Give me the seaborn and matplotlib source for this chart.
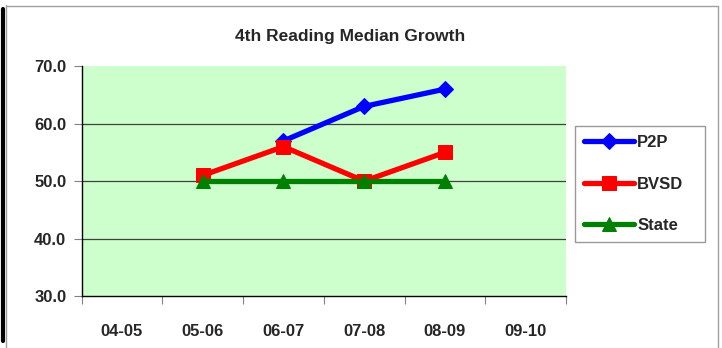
import numpy as np
import pandas as pd
import matplotlib
matplotlib.use("Agg")
import matplotlib.pyplot as plt
from matplotlib.lines import Line2D
import seaborn as sns

# data
years = ["04-05", "05-06", "06-07", "07-08", "08-09", "09-10"]
p2p = [np.nan, np.nan, 57, 63, 66, np.nan]
bvsd = [np.nan, 51, 56, 50, 55, np.nan]
state = [np.nan, 50, 50, 50, 50, np.nan]

series_names = ["P2P", "BVSD", "State"]
series_colors = ["#0000FF", "#FF0000", "#008000"]
series_markers = ["D", "s", "^"]
marker_sizes = [8, 10, 10]

sns.set_style("white")
plt.rcParams["font.family"] = ["Liberation Sans", "DejaVu Sans"]
plt.rcParams["font.weight"] = "bold"

rows = []
for name, vals in zip(series_names, [p2p, bvsd, state]):
    for i, v in enumerate(vals):
        if not np.isnan(v):
            rows.append({"pos": i, "year": years[i], "series": name, "value": v})
df = pd.DataFrame(rows)

fig = plt.figure(figsize=(7.22, 3.48), dpi=100)
ax = fig.add_axes([0.113, 0.149, 0.671, 0.661])
ax.set_facecolor("#CCFFCC")

for name, color, mk, ms in zip(series_names, series_colors, series_markers, marker_sizes):
    sub = df[df["series"] == name]
    sns.lineplot(data=sub, x="pos", y="value", color=color, marker=mk,
                 markersize=ms, markeredgecolor=color, linewidth=3.8,
                 label=name, ax=ax, zorder=3)

ax.set_xlim(-0.5, len(years) - 0.5)
ax.set_ylim(30, 70)
ax.set_yticks([30, 40, 50, 60, 70])
ax.set_yticklabels([f"{v:.1f}" for v in [30, 40, 50, 60, 70]], fontsize=12, fontweight="bold")
ax.set_xticks(np.arange(-0.5, len(years), 1.0))
ax.set_xticklabels([])
ax.set_xticks(np.arange(len(years)), minor=True)
ax.set_xticklabels(years, minor=True, fontsize=12, fontweight="bold")
ax.tick_params(axis="x", which="major", length=6, color="#808080", direction="out", bottom=True)
ax.tick_params(axis="x", which="minor", length=0, pad=20)
ax.tick_params(axis="y", length=6, color="#808080", direction="out", left=True, pad=5)
ax.set_xlabel("")
ax.set_ylabel("")

for y in [40, 50, 60]:
    ax.axhline(y, color="#404040", linewidth=0.9, zorder=1)

for s in ["top", "right"]:
    ax.spines[s].set_visible(False)
for s in ["left", "bottom"]:
    ax.spines[s].set_color("black")
    ax.spines[s].set_linewidth(1.0)

fig.text(0.485, 0.895, "4th Reading Median Growth", ha="center", va="center",
         fontsize=12.5, fontweight="bold")

# legend box fixed to the reference's place (about 575-705 px wide)
leg = ax.legend(loc="center", bbox_to_anchor=(0.796, 0.29, 0.18, 0.362),
                bbox_transform=fig.transFigure, mode="expand", frameon=True,
                fancybox=False, fontsize=12, handlelength=3.0, labelspacing=1.6,
                borderpad=0.55, handletextpad=0.2, borderaxespad=0)
leg.get_frame().set_edgecolor("#808080")
leg.get_frame().set_linewidth(1.0)
for t in leg.get_texts():
    t.set_fontweight("bold")

# frame pieces of the cropped screenshot
fig.add_artist(Line2D([0.004, 0.004], [0.02, 0.975], color="black", linewidth=3,
                      transform=fig.transFigure))
fig.add_artist(Line2D([0.008, 0.008], [0.0, 0.985], color="#A0A0A0", linewidth=1,
                      transform=fig.transFigure))
fig.add_artist(Line2D([0.008, 0.995], [0.982, 0.982], color="#A0A0A0", linewidth=1,
                      transform=fig.transFigure))
fig.add_artist(Line2D([0.995, 0.995], [0.0, 0.982], color="#A0A0A0", linewidth=1,
                      transform=fig.transFigure))

fig.savefig("out.png", dpi=100)
